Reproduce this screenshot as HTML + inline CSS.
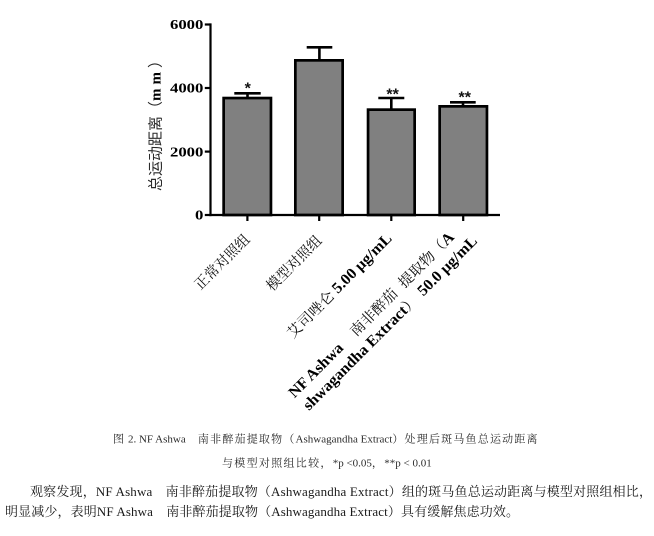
<!DOCTYPE html>
<html>
<head>
<meta charset="utf-8">
<style>
  html, body { margin: 0; padding: 0; background: #ffffff; }
  body { width: 654px; height: 536px; overflow: hidden; }
  svg { display: block; }
</style>
</head>
<body>
<svg width="654" height="536" viewBox="0 0 654 536" xmlns="http://www.w3.org/2000/svg">
  <rect x="0" y="0" width="654" height="536" fill="#ffffff"/>

  <!-- Bars -->
  <g fill="#808080" stroke="#000" stroke-width="2.7">
    <rect x="223.65" y="98.05" width="47.3" height="116.95"/>
    <rect x="295.35" y="60.35" width="47.3" height="154.65"/>
    <rect x="368.05" y="109.65" width="46.6" height="105.35"/>
    <rect x="439.65" y="106.35" width="47.3" height="108.65"/>
  </g>

  <!-- Error bars -->
  <g stroke="#000" stroke-width="2.6" fill="none">
    <path d="M247.5,93.3 V97"/>
    <path d="M234.3,93.3 H260.7"/>
    <path d="M319.4,47.3 V59.5"/>
    <path d="M306.7,47.3 H332.3"/>
    <path d="M391.3,98 V109"/>
    <path d="M378.3,98 H404.3"/>
    <path d="M463,102.3 V105.5"/>
    <path d="M450,102.3 H475.7"/>
  </g>

  <!-- Significance stars -->
  <g font-family="Liberation Sans, sans-serif" font-weight="bold" font-size="16" fill="#111" text-anchor="middle">
    <text x="247.7" y="93.4">*</text>
    <text x="392.6" y="99.3">**</text>
    <text x="464.7" y="102.6">**</text>
  </g>

  <!-- Axes -->
  <g stroke="#000" stroke-width="2.2" fill="none">
    <path d="M210.5,23.4 V216.1"/>
    <path d="M209.4,215 H500"/>
    <path d="M204.8,24.5 H210.5"/>
    <path d="M204.8,88 H210.5"/>
    <path d="M204.8,151.6 H210.5"/>
    <path d="M204.8,215 H210.5"/>
    <path d="M247.4,215 V221"/>
    <path d="M319.2,215 V221"/>
    <path d="M391.3,215 V221"/>
    <path d="M463.2,215 V221"/>
  </g>

  <!-- Y tick labels -->
  <g font-family="Liberation Serif, serif" font-weight="bold" font-size="13.5" fill="#000" text-anchor="end">
    <text transform="translate(203.4,29.2) scale(1.24,1)">6000</text>
    <text transform="translate(203.4,92.7) scale(1.24,1)">4000</text>
    <text transform="translate(203.4,156.3) scale(1.24,1)">2000</text>
    <text transform="translate(203.4,219.7) scale(1.24,1)">0</text>
  </g>

  <!-- Y axis label -->
  <text transform="translate(160.5,191) rotate(-90)" font-size="15" font-family="Liberation Sans, 'Noto Sans CJK SC', sans-serif" fill="#2a2a2a">总运动距离（<tspan font-family="Liberation Serif, serif" font-weight="bold" letter-spacing="4" fill="#000">mm</tspan>）</text>

  <!-- X category labels (rotated -45) -->
  <g font-family="Liberation Serif, 'Noto Serif CJK SC', serif" font-size="14.5" fill="#111">
    <text transform="translate(200.4,290.5) rotate(-45)" textLength="71" lengthAdjust="spacingAndGlyphs">正常对照组</text>
    <text transform="translate(272.3,291.7) rotate(-45)" textLength="71" lengthAdjust="spacingAndGlyphs">模型对照组</text>
    <text transform="translate(293,339) rotate(-45)" textLength="141" lengthAdjust="spacingAndGlyphs">艾司唑仑 <tspan font-weight="bold" font-size="15.5" fill="#000">5.00 μg/mL</tspan></text>
    <text transform="translate(294.5,398.5) rotate(-45)" textLength="227" lengthAdjust="spacingAndGlyphs"><tspan font-weight="bold" font-size="15.5" fill="#000">NF Ashwa</tspan><tspan dx="16">南非醉茄</tspan><tspan dx="8">提取物（</tspan><tspan font-weight="bold" font-size="15.5" fill="#000">A</tspan></text>
    <text transform="translate(309,411) rotate(-45)" textLength="239" lengthAdjust="spacingAndGlyphs"><tspan font-weight="bold" font-size="15.5" fill="#000">shwagandha Extract</tspan>）<tspan dx="6" font-weight="bold" font-size="15.5" fill="#000">50.0 μg/mL</tspan></text>
  </g>

  <!-- Caption -->
  <g font-family="Liberation Serif, 'Noto Serif CJK SC', serif" font-size="11" fill="#2b2b2b">
    <text x="113" y="442.6"><tspan letter-spacing="1.2">图</tspan> 2. NF Ashwa<tspan letter-spacing="1.2">　南非醉茄提取物（</tspan>Ashwagandha Extract<tspan letter-spacing="1.2">）处理后斑马鱼总运动距离</tspan></text>
    <text x="222" y="466.5"><tspan letter-spacing="1.3">与模型对照组比较，</tspan>*p &lt;0.05<tspan letter-spacing="1.3">，</tspan>**p &lt; 0.01</text>
  </g>

  <!-- Paragraph -->
  <g font-family="Liberation Serif, 'Noto Serif CJK SC', serif" font-size="13" fill="#1a1a1a">
    <text x="30" y="496" textLength="622" lengthAdjust="spacing">观察发现，NF Ashwa　南非醉茄提取物（Ashwagandha Extract）组的斑马鱼总运动距离与模型对照组相比，</text>
    <text x="5" y="516" textLength="514" lengthAdjust="spacing">明显减少，表明NF Ashwa　南非醉茄提取物（Ashwagandha Extract）具有缓解焦虑功效。</text>
  </g>
</svg>
</body>
</html>
